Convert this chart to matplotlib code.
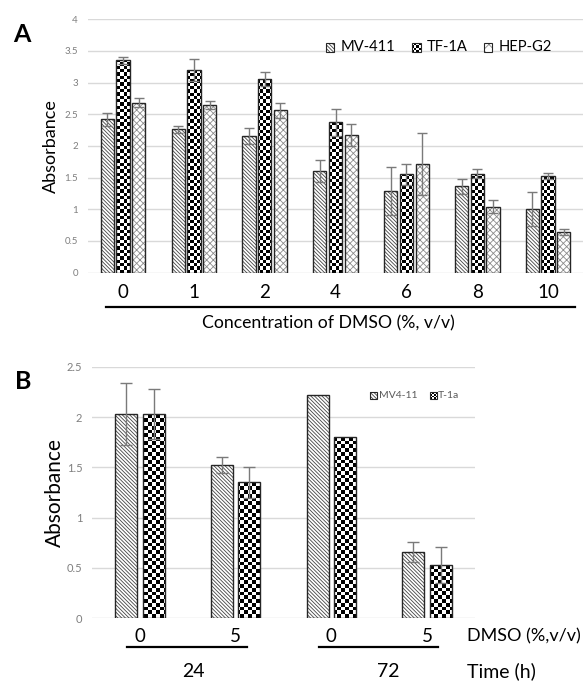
import numpy as np
import matplotlib
matplotlib.use("Agg")
import matplotlib.pyplot as plt
from matplotlib.patches import Rectangle
from matplotlib.lines import Line2D
import matplotlib.transforms as mtransforms

plt.rcParams['font.family'] = ['Lato', 'DejaVu Sans']
plt.rcParams['hatch.linewidth'] = 0.6

# ---- panel A data ----
conc_labels = ["0", "1", "2", "4", "6", "8", "10"]
mv411 = [2.42, 2.26, 2.16, 1.60, 1.29, 1.36, 1.00]
mv411_err = [0.10, 0.06, 0.13, 0.17, 0.38, 0.12, 0.27]
tf1a = [3.35, 3.20, 3.06, 2.37, 1.55, 1.56, 1.53]
tf1a_err = [0.05, 0.17, 0.11, 0.21, 0.16, 0.07, 0.05]
hepg2 = [2.68, 2.65, 2.56, 2.17, 1.71, 1.04, 0.64]
hepg2_err = [0.07, 0.06, 0.12, 0.17, 0.49, 0.10, 0.05]
a_names = ["MV-411", "TF-1A", "HEP-G2"]
a_yticks = [0, 0.5, 1, 1.5, 2, 2.5, 3, 3.5, 4]

# ---- panel B data ----
dmso_labels = ["0", "5", "0", "5"]
time_labels = ["24", "72"]
mv411_b = [2.03, 1.52, 2.22, 0.66]
mv411_b_err = [0.31, 0.08, 0.0, 0.10]
t1a_b = [2.03, 1.35, 1.80, 0.53]
t1a_b_err = [0.25, 0.15, 0.0, 0.18]
b_names = ["MV4-11", "T-1a"]
b_yticks = [0, 0.5, 1, 1.5, 2, 2.5]

GRID = "#d9d9d9"
TICKC = "#7f7f7f"
ERRC = "#7a7a7a"
DIAG = "\\" * 9
CROSS = "xxxxx"


def checker(n):
    i, j = np.indices(n)
    return ((i + j) % 2).astype(float)


def draw_bars(ax, x, h, w, style, cell_px, ax_px):
    # white base
    bars = ax.bar(x, h, w, color="white", edgecolor="none", linewidth=0, zorder=2)
    if style == "diag":
        ax.bar(x, h, w, color="none", edgecolor="#444444", hatch=DIAG,
               linewidth=0, zorder=2.1)
    elif style == "cross":
        ax.bar(x, h, w, color="none", edgecolor="#8c8c8c", hatch=CROSS,
               linewidth=0, zorder=2.1)
    elif style == "check":
        # checkerboard image clipped to each bar
        x0, x1 = ax.get_xlim()
        y0, y1 = ax.get_ylim()
        nx = int(ax_px[0] / cell_px)
        ny = int(ax_px[1] / cell_px)
        pat = checker((ny, nx))
        for b in bars:
            im = ax.imshow(pat, cmap="gray", vmin=0, vmax=1, extent=(x0, x1, y0, y1),
                           origin="lower", aspect="auto", interpolation="nearest",
                           zorder=2.1)
            im.set_clip_path(b)
        ax.set_xlim(x0, x1)
        ax.set_ylim(y0, y1)
    ax.bar(x, h, w, color="none", edgecolor="#262626", linewidth=1.0, zorder=2.2)


def legend_icon(ax, x, y, s, style):
    # icon box in axes coordinates
    sw, sh = s
    if style == "check":
        x0, x1 = ax.get_xlim()
        y0, y1 = ax.get_ylim()
        im = ax.imshow(checker((4, 4)), cmap="gray", vmin=0, vmax=1,
                       extent=(x, x + sw, y, y + sh), origin="lower", aspect="auto",
                       interpolation="nearest", zorder=5)
        im.set_transform(ax.transAxes)
        ax.set_xlim(x0, x1)
        ax.set_ylim(y0, y1)
    else:
        hatch = DIAG if style == "diag" else "xxx"
        col = "#444444" if style == "diag" else "#8c8c8c"
        ax.add_patch(Rectangle((x, y), sw, sh, transform=ax.transAxes, facecolor="white",
                               edgecolor=col, hatch=hatch, linewidth=0, zorder=5))
    ax.add_patch(Rectangle((x, y), sw, sh, transform=ax.transAxes, facecolor="none",
                           edgecolor="#262626", linewidth=0.8, zorder=6))


fig = plt.figure(figsize=(5.83, 6.82), dpi=100)

# ================= Panel A =================
axA = fig.add_axes([0.1504, 0.6004, 0.8504, 0.3713])
xa = np.arange(len(conc_labels))
axA.set_xlim(-0.5, 6.5)
axA.set_ylim(0, 4)
apx = (0.8504 * 583, 0.3713 * 682)
bw, off = 0.187, 0.222
draw_bars(axA, xa - off, mv411, bw, "diag", 3.3, apx)
draw_bars(axA, xa, tf1a, bw, "check", 3.3, apx)
draw_bars(axA, xa + off, hepg2, bw, "cross", 3.3, apx)
for xx, yy, ee in [(xa - off, mv411, mv411_err), (xa, tf1a, tf1a_err), (xa + off, hepg2, hepg2_err)]:
    axA.errorbar(xx, yy, yerr=ee, fmt="none", ecolor=ERRC, elinewidth=1, capsize=3.5,
                 capthick=1, zorder=3)

axA.set_yticks(a_yticks)
axA.set_yticklabels([f"{v:g}" for v in a_yticks], fontsize=7, color=TICKC)
axA.set_xticks(xa)
axA.set_xticklabels(conc_labels, fontsize=13.5)
axA.tick_params(axis="both", length=0)
axA.tick_params(axis="y", pad=7)
axA.tick_params(axis="x", pad=8)
axA.grid(axis="y", color=GRID, linewidth=1)
axA.set_axisbelow(True)
for sp in axA.spines.values():
    sp.set_visible(False)
axA.set_ylabel("Absorbance", fontsize=13, labelpad=4)

# legend A
for name, style, xi, xt in zip(a_names, ["diag", "check", "cross"],
                               [0.4809, 0.6551, 0.7994], [0.5097, 0.6847, 0.8296]):
    legend_icon(axA, xi, 0.8728, (0.0167, 0.0355), style)
    axA.text(xt, 0.889, name, transform=axA.transAxes, fontsize=10.6,
             va="center", ha="left")

fig.add_artist(Line2D([0.1818, 0.9863], [0.5503, 0.5503], color="black", linewidth=1.6))
fig.text(0.5626, 0.5264, "Concentration of DMSO (%, v/v)", fontsize=12.7,
         ha="center", va="center")
fig.text(0.038, 0.950, "A", fontsize=18, fontweight="bold", ha="center", va="center")

# ================= Panel B =================
axB = fig.add_axes([0.1578, 0.0934, 0.657, 0.3689])
xb = np.arange(len(dmso_labels))
axB.set_xlim(-0.5, 3.5)
axB.set_ylim(0, 2.5)
bpx = (0.657 * 583, 0.3689 * 682)
bwb, offb = 0.23, 0.144
draw_bars(axB, xb - offb, mv411_b, bwb, "diag", 3.7, bpx)
draw_bars(axB, xb + offb, t1a_b, bwb, "check", 3.7, bpx)
for xx, yy, ee in [(xb - offb, mv411_b, mv411_b_err), (xb + offb, t1a_b, t1a_b_err)]:
    ee = np.asarray(ee)
    m = ee > 0
    axB.errorbar(np.asarray(xx)[m], np.asarray(yy)[m], yerr=ee[m], fmt="none", ecolor=ERRC,
                 elinewidth=1, capsize=4, capthick=1, zorder=3)

axB.set_yticks(b_yticks)
axB.set_yticklabels([f"{v:g}" for v in b_yticks], fontsize=8, color=TICKC)
axB.set_xticks(xb)
axB.set_xticklabels(dmso_labels, fontsize=13.5)
axB.tick_params(axis="both", length=0)
axB.tick_params(axis="y", pad=7)
axB.tick_params(axis="x", pad=7)
axB.grid(axis="y", color=GRID, linewidth=1)
axB.set_axisbelow(True)
for sp in axB.spines.values():
    sp.set_visible(False)
axB.set_ylabel("Absorbance", fontsize=15, labelpad=1)

# legend B
for name, style, xi in zip(b_names, ["diag", "check"], [0.726, 0.882]):
    legend_icon(axB, xi, 0.871, (0.019, 0.027), style)
    axB.text(xi + 0.022, 0.885, name, transform=axB.transAxes, fontsize=7.5,
             color="#595959", va="center", ha="left")

trB = mtransforms.blended_transform_factory(axB.transData, axB.transAxes)
for k, (lab, lx) in enumerate(zip(time_labels, [0.56, 2.595])):
    c = 2 * k
    axB.add_line(Line2D([c - 0.13, c + 1.115], [-0.115, -0.115], transform=trB,
                        color="black", linewidth=1.6, clip_on=False))
    axB.text(lx, -0.212, lab, transform=trB, fontsize=14, ha="center", va="center")
axB.text(0.978, -0.073, "DMSO (%,v/v)", transform=axB.transAxes, fontsize=13,
         ha="left", va="center")
axB.text(0.978, -0.212, "Time (h)", transform=axB.transAxes, fontsize=14,
         ha="left", va="center")
fig.text(0.039, 0.441, "B", fontsize=18, fontweight="bold", ha="center", va="center")

fig.savefig("out.png", dpi=100)
